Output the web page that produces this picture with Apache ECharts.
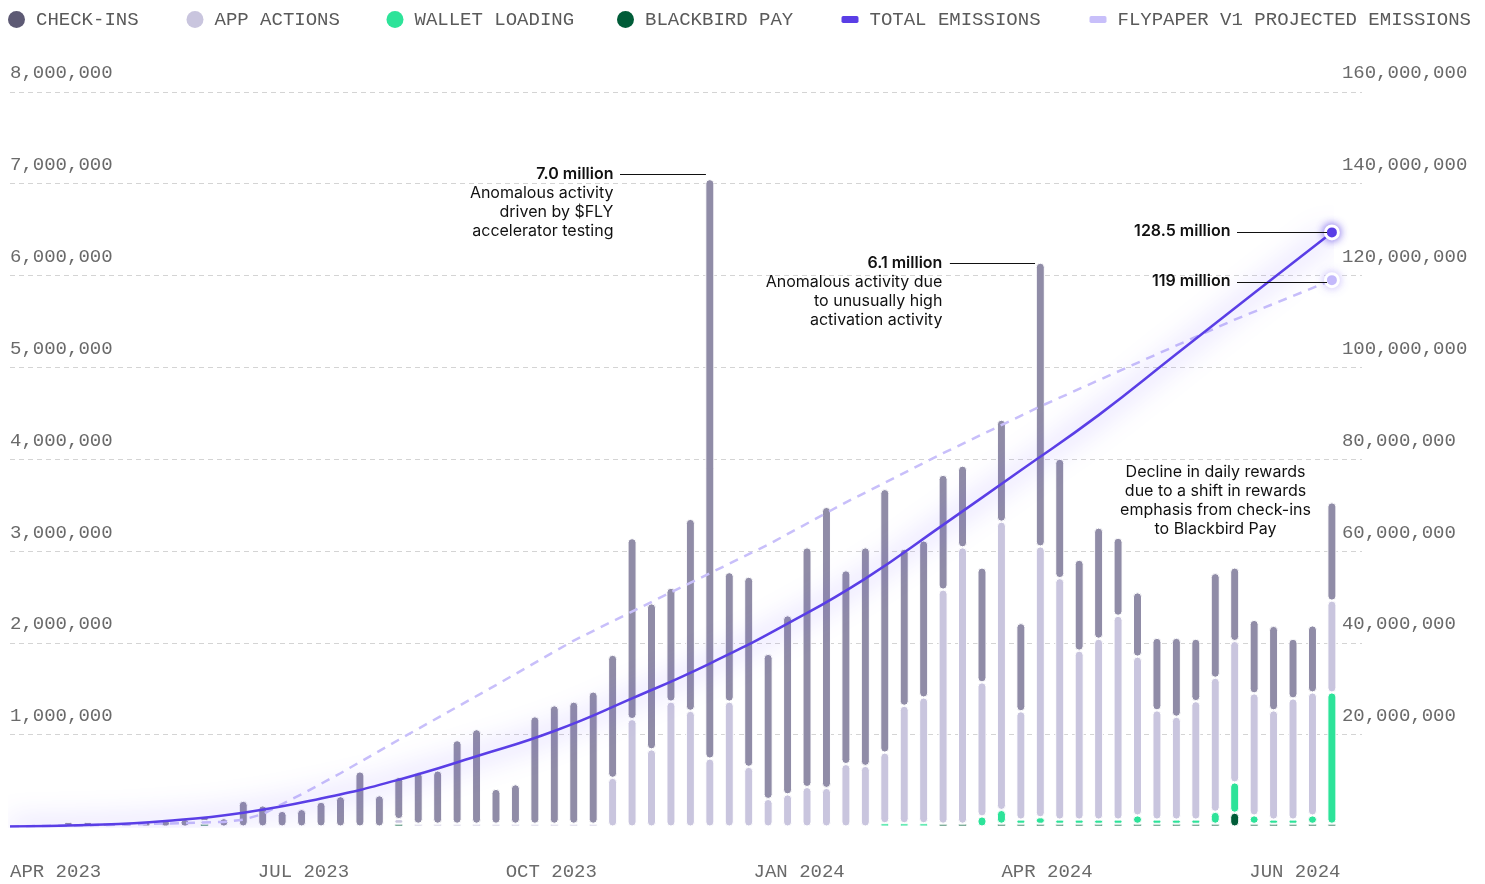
<!DOCTYPE html>
<html>
<head>
<meta charset="utf-8">
<script src="https://cdn.jsdelivr.net/npm/echarts@6/dist/echarts.min.js"></script>
<style>
  html, body { margin: 0; background: #fff; }
  #chart { width: 1485px; height: 884px; }
</style>
</head>
<body>
<div id="chart"></div>
<script>
// weekly rewards, millions
const checkIns = [
  0, 0, 0, 0.05, 0.05, 0.04, 0.04, 0.05, 0.07, 0.08,
  0.05, 0.09, 0.28, 0.23, 0.17, 0.19, 0.27, 0.33, 0.60, 0.34,
  0.46, 0.56, 0.58, 0.91, 1.03, 0.38, 0.43, 1.17, 1.29, 1.33,
  1.44, 1.34, 1.97, 1.59, 1.24, 2.09, 6.31, 1.41, 2.07, 1.58,
  1.95, 2.61, 3.06, 2.11, 2.38, 2.87, 1.71, 1.71, 1.25, 0.89,
  1.25, 1.11, 0.96, 3.09, 1.30, 0.99, 1.21, 0.85, 0.70, 0.79,
  0.86, 0.68, 1.14, 0.80, 0.80, 0.92, 0.65, 0.73, 1.07
];
const appActions = [
  0, 0, 0, 0, 0, 0, 0, 0, 0, 0,
  0.03, 0, 0, 0, 0, 0, 0, 0, 0, 0,
  0.05, 0.03, 0.03, 0.03, 0.03, 0.03, 0.03, 0.03, 0.03, 0.03,
  0.03, 0.53, 1.17, 0.84, 1.36, 1.26, 0.74, 1.36, 0.65, 0.30,
  0.35, 0.43, 0.42, 0.68, 0.66, 0.77, 1.28, 1.37, 2.55, 3.01,
  1.46, 3.14, 1.18, 2.95, 2.63, 1.84, 1.97, 2.22, 1.73, 1.19,
  1.12, 1.29, 1.46, 1.54, 1.33, 1.19, 1.32, 1.34, 1.00
];
const walletLoading = [
  0, 0, 0, 0, 0, 0, 0, 0, 0, 0,
  0, 0, 0, 0, 0, 0, 0, 0, 0, 0,
  0, 0, 0, 0, 0, 0, 0, 0, 0, 0,
  0, 0, 0, 0, 0, 0, 0, 0, 0, 0,
  0, 0, 0, 0, 0, 0.035, 0.035, 0.035, 0, 0,
  0.11, 0.15, 0.045, 0.07, 0.045, 0.045, 0.045, 0.045, 0.09, 0.045,
  0.045, 0.045, 0.13, 0.33, 0.09, 0.045, 0.045, 0.09, 1.43
];
const blackbirdPay = [
  0, 0, 0, 0, 0, 0, 0, 0, 0, 0,
  0.03, 0, 0, 0, 0, 0, 0, 0, 0, 0,
  0.03, 0, 0, 0, 0, 0, 0, 0, 0, 0,
  0, 0, 0, 0, 0, 0, 0, 0, 0, 0,
  0, 0, 0, 0, 0, 0, 0, 0, 0.03, 0.03,
  0, 0.03, 0.03, 0.03, 0.03, 0.03, 0.03, 0.03, 0.03, 0.03,
  0.03, 0.03, 0.03, 0.15, 0.03, 0.03, 0.03, 0.03, 0.03
];
const weeks = checkIns.map((_, i) => 'W' + (i + 1));

// cumulative emissions, millions, [week index, value]
const totalEmissions = [
  [0, 0], [4, 0.3], [8, 1.2], [12, 3.0], [16, 6.1], [20, 10.2], [24, 15.3],
  [28, 20.8], [32, 27.9], [36, 35.5], [40, 44.2], [44, 54.0], [48, 65.7],
  [52, 77.6], [56, 89.6], [60, 102.9], [64, 116.2], [68, 129.4]
];
const projectedEmissions = [
  [0, 0], [5, 0.35], [9, 0.75], [11, 1.0], [12, 1.5], [13, 2.7], [14, 4.9],
  [15, 7.0], [17, 11.6], [20, 18.9], [25, 30.8], [29, 40.5], [34, 51.0],
  [39, 61.4], [43, 70.6], [48, 81.3], [53, 91.5], [58, 101.0], [63, 110.4], [68, 119.0]
];

const monthLabels = ['APR 2023', 'JUL 2023', 'OCT 2023', 'JAN 2024', 'APR 2024', 'JUN 2024'];
const monthStep = 12.75;

// annotations: anchor in [week index, left-axis millions]
const notes = [
  { at: [31.07, 7.10], align: 'right', bold: true,
    lines: ['7.0 million', 'Anomalous activity', 'driven by $FLY', 'accelerator testing'] },
  { at: [47.99, 6.13], align: 'right', bold: true,
    lines: ['6.1 million', 'Anomalous activity due', 'to unusually high', 'activation activity'] },
  { at: [62.81, 6.476], align: 'right', bold: true, lines: ['128.5 million'] },
  { at: [62.81, 5.93], align: 'right', bold: true, lines: ['119 million'] },
  { at: [62.04, 3.85], align: 'center', bold: false,
    lines: ['Decline in daily rewards', 'due to a shift in rewards', 'emphasis from check-ins', 'to Blackbird Pay'] }
];
const leaders = [
  [[31.38, 7.10], [35.80, 7.10]],
  [[48.35, 6.13], [52.73, 6.13]],
  [[63.12, 6.476], [67.75, 6.476]],
  [[63.12, 5.93], [67.75, 5.93]]
];

const MONO = 'Liberation Mono';
const SANS = 'Inter';

const legendItems = [
  { name: 'CHECK-INS', left: 8, color: '#5d5a74', icon: 'circle' },
  { name: 'APP ACTIONS', left: 186.5, color: '#c9c5de', icon: 'circle' },
  { name: 'WALLET LOADING', left: 386.5, color: '#2de399', icon: 'circle' },
  { name: 'BLACKBIRD PAY', left: 617, color: '#005c38', icon: 'circle' },
  { name: 'TOTAL EMISSIONS', left: 841.5, color: '#5a3ee6', icon: 'roundRect' },
  { name: 'FLYPAPER V1 PROJECTED EMISSIONS', left: 1089.5, color: '#c8bffa', icon: 'roundRect' }
];

const fmtNum = (v) => (v === 0 ? '' : (v * 1e6).toLocaleString('en-US'));

const barSeries = (name, values, color) => ({
  name: name,
  type: 'bar',
  stack: 'rewards',
  xAxisIndex: 0,
  yAxisIndex: 0,
  barWidth: 9,
  clip: false,
  data: values.map((v) => (v ? v : null)),
  itemStyle: { color: color, borderRadius: 4.5, borderColor: '#fff', borderWidth: 1 }
});

const endDot = (point, color, glow) => ({
  value: point,
  symbol: 'circle',
  symbolSize: 13,
  itemStyle: { color: color, borderColor: '#fff', borderWidth: 3, shadowBlur: 8, shadowColor: glow }
});

const noteLabel = (n) => {
  const tag = n.align === 'right' ? 'r' : 'c';
  return n.lines.map((t, i) => `{${(i === 0 && n.bold) ? 'h' : 't'}${tag}|${t}}`).join('\n');
};

const noteText = { fontFamily: SANS, fontSize: 16, lineHeight: 19, color: '#111' };

const chart = echarts.init(document.getElementById('chart'));

const option = {
  animation: false,
  backgroundColor: '#fff',
  legend: legendItems.map((it) => ({
    data: [it.name],
    left: it.left,
    top: 10,
    padding: 0,
    icon: it.icon,
    itemWidth: 17,
    itemHeight: it.icon === 'circle' ? 17 : 7,
    selectedMode: false,
    itemStyle: { color: it.color, borderWidth: 0 },
    textStyle: { fontFamily: MONO, fontSize: 19, color: '#5a5a5a', padding: [0, 0, 0, 6] }
  })),
  grid: [
    { left: 10, right: 1485 - 1331.9, top: 91.9, bottom: 57.5 },
    { left: 10, right: 123, top: 91.9, bottom: 57.5 }
  ],
  xAxis: [
    { type: 'category', gridIndex: 0, data: weeks, boundaryGap: false, show: false },
    {
      type: 'value', gridIndex: 1, min: 0, max: 69.55, interval: monthStep,
      axisLine: { show: false }, axisTick: { show: false }, splitLine: { show: false },
      axisLabel: {
        margin: 36, align: 'left', fontFamily: MONO, fontSize: 19, color: '#6a6a6a',
        formatter: (v) => {
          const k = v / monthStep;
          const r = Math.round(k);
          return Math.abs(k - r) < 1e-6 && monthLabels[r] ? monthLabels[r] : '';
        }
      }
    }
  ],
  yAxis: [
    { type: 'value', gridIndex: 0, min: 0, max: 8, interval: 1, show: false },
    {
      type: 'value', gridIndex: 0, position: 'right', min: 0, max: 160, interval: 20,
      axisLine: { show: false }, axisTick: { show: false }, splitLine: { show: false },
      axisLabel: {
        inside: false, margin: 10, align: 'left', verticalAlign: 'bottom', padding: [0, 0, 9, 0],
        fontFamily: MONO, fontSize: 19, color: '#6a6a6a', formatter: fmtNum
      }
    },
    {
      type: 'value', gridIndex: 1, min: 0, max: 8, interval: 1,
      axisLine: { show: false }, axisTick: { show: false },
      splitLine: { show: true, showMinLine: false, lineStyle: { color: '#d4d4d4', type: [5, 4], width: 1 } },
      axisLabel: {
        inside: true, margin: 0, align: 'left', verticalAlign: 'bottom', padding: [0, 0, 9, 0],
        fontFamily: MONO, fontSize: 19, color: '#6a6a6a', formatter: fmtNum
      }
    }
  ],
  series: [
    barSeries('BLACKBIRD PAY', blackbirdPay, '#005c38'),
    barSeries('WALLET LOADING', walletLoading, '#2de399'),
    barSeries('APP ACTIONS', appActions, '#c9c5de'),
    barSeries('CHECK-INS', checkIns, '#908ca7'),
    {
      name: 'FLYPAPER V1 PROJECTED EMISSIONS',
      type: 'line',
      xAxisIndex: 0,
      yAxisIndex: 1,
      smooth: false,
      symbol: 'none',
      showSymbol: true,
      showAllSymbol: true,
      itemStyle: { color: '#c8bffa' },
      lineStyle: { color: '#c8bffa', width: 2.5, type: [9, 7] },
      data: projectedEmissions.map((p, i) =>
        i === projectedEmissions.length - 1 ? endDot(p, '#c9c0fb', 'rgba(180,165,250,0.7)') : p),
      z: 3
    },
    {
      name: 'TOTAL EMISSIONS',
      type: 'line',
      xAxisIndex: 0,
      yAxisIndex: 1,
      smooth: 0.5,
      symbol: 'none',
      showSymbol: true,
      showAllSymbol: true,
      itemStyle: { color: '#5a3ee6' },
      lineStyle: { color: '#5a3ee6', width: 2.5, shadowColor: 'rgba(100,70,245,1)', shadowBlur: 28 },
      data: totalEmissions.map((p, i) =>
        i === totalEmissions.length - 1 ? endDot(p, '#5a3ee6', 'rgba(90,62,230,0.8)') : p),
      z: 4
    },
    {
      type: 'scatter',
      xAxisIndex: 1,
      yAxisIndex: 2,
      data: [],
      silent: true,
      z: 5,
      markLine: {
        silent: true,
        symbol: ['none', 'none'],
        label: { show: false },
        lineStyle: { color: '#111', width: 1, type: 'solid' },
        emphasis: { disabled: true },
        data: leaders.map((l) => [{ coord: l[0] }, { coord: l[1] }])
      },
      markPoint: {
        silent: true,
        symbol: 'rect',
        symbolSize: 1,
        itemStyle: { color: 'rgba(0,0,0,0)' },
        data: notes.map((n) => ({
          coord: n.at,
          label: {
            show: true,
            position: [0, 0],
            offset: [0, -9.5],
            align: n.align,
            verticalAlign: 'top',
            formatter: noteLabel(n),
            rich: {
              hr: Object.assign({ fontWeight: 600, align: 'right' }, noteText),
              tr: Object.assign({ align: 'right' }, noteText),
              hc: Object.assign({ fontWeight: 600, align: 'center' }, noteText),
              tc: Object.assign({ align: 'center' }, noteText)
            }
          }
        }))
      }
    }
  ]
};

chart.setOption(option);
</script>
</body>
</html>
